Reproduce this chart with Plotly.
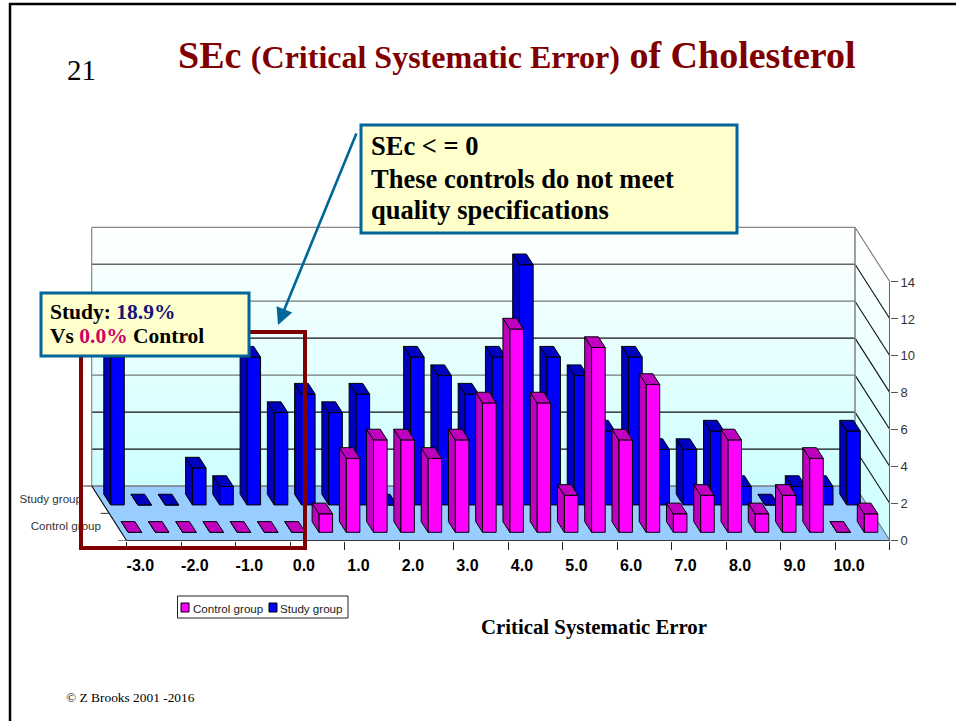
import plotly.graph_objects as go

W, H = 956, 721

# ---------- data ----------
categories = ["-3.0", "-2.5", "-2.0", "-1.5", "-1.0", "-0.5", "0.0", "0.5", "1.0", "1.5",
              "2.0", "2.5", "3.0", "3.5", "4.0", "4.5", "5.0", "5.5", "6.0", "6.5",
              "7.0", "7.5", "8.0", "8.5", "9.0", "9.5", "10.0", "10.5"]
control_values = [0, 0, 0, 0, 0, 0, 0, 1, 4, 5, 5, 4, 5, 7, 11, 7, 2, 10, 5, 8, 1, 2, 5, 1, 2, 4, 0, 1]
study_values = [8, 0, 0, 2, 1, 8, 5, 6, 5, 6, 0, 8, 7, 6, 8, 13, 8, 7, 4, 8, 3, 3, 4, 1, 0, 1, 1, 4]
y_ticks = [0, 2, 4, 6, 8, 10, 12, 14]
series_names = ["Control group", "Study group"]

# ---------- oblique projection, in axis units ----------
PX_X = 27.26                # pixels per category slot
PX_Y = 18.48                # pixels per value unit
X0, Y0 = 126.7, 540.7       # pixel position of the front-left floor corner
LEFT_PX, TOP_PX = 60, 220   # plot-area limits
SKEW_X = -17.5 / PX_X       # shift per depth row
SKEW_Y = 27.35 / PX_Y
N = len(categories)
VMAX = 14


def P(s, d, v):
    return s + d * SKEW_X, v + d * SKEW_Y


SANS = "Liberation Sans"
SERIF = "Liberation Serif"
x_range = [(LEFT_PX - X0) / PX_X, N]
y_range = [0, (Y0 - TOP_PX) / PX_Y]


def poly_path(pts):
    return "M" + " L".join(f"{a:.4f},{b:.4f}" for a, b in pts) + " Z"


shapes = []


def lerp_colour(t):
    # white at the top of the wall, pale cyan at the floor
    r = round(255 - 51 * t)
    return f"rgb({r},255,255)"


# wall gradients
BANDS = 70
for k in range(BANDS):
    a = VMAX * k / BANDS
    b = VMAX * (k + 1) / BANDS + 0.03
    col = lerp_colour(1 - (k + 0.5) / BANDS)
    shapes.append(dict(type="path", layer="below", xref="x", yref="y", line_width=0, fillcolor=col,
                       path=poly_path([P(0, 2, a), P(N, 2, a), P(N, 2, b), P(0, 2, b)])))
    shapes.append(dict(type="path", layer="below", xref="x", yref="y", line_width=0, fillcolor=col,
                       path=poly_path([P(N, 2, a), P(N, 0, a), P(N, 0, b), P(N, 2, b)])))

# floor
shapes.append(dict(type="path", layer="below", xref="x", yref="y", line_width=0, fillcolor="#99CCFF",
                   path=poly_path([P(0, 0, 0), P(N, 0, 0), P(N, 2, 0), P(0, 2, 0)])))


def seg(a, b, color, width):
    shapes.append(dict(type="line", layer="below", xref="x", yref="y", x0=a[0], y0=a[1], x1=b[0], y1=b[1],
                       line=dict(color=color, width=width)))


# gridlines on both walls
grid_colours = ["#777777", "#111111", "#111111", "#777777", "#111111", "#777777", "#666666", "#888888"]
for v, c in zip(y_ticks, grid_colours):
    seg(P(0, 2, v), P(N, 2, v), c, 1.3)
    if v > 0:
        seg(P(N, 2, v), P(N, 0, v), "#111111" if v < 14 else "#777777", 1.1)
seg(P(0, 2, 0), P(0, 2, VMAX), "#888888", 1.2)
seg(P(N, 2, 0), P(N, 2, VMAX), "#888888", 1.6)
seg(P(0, 2, 0), P(0, 0, 0), "#000000", 1.1)
seg(P(N, 2, 0), P(N, 0, 0), "#777777", 1.1)
# depth-axis ticks
for d in (0, 1, 2):
    a = P(0, d, 0)
    seg((a[0] - 8.5 / PX_X, a[1]), a, "#333333", 1)


def bar_traces(values, row, front, dark, name, xa, ya):
    d0, d1 = row + 0.307, row + 0.698
    gap = 0.25
    sx, sy, tx, ty = [], [], [], []
    bar_x, bar_base = [], []
    for i, v in enumerate(values):
        l, r = i + gap, i + 1 - gap
        for (px_, py_) in [P(l, d0, 0), P(l, d1, 0), P(l, d1, v), P(l, d0, v), P(l, d0, 0)]:
            sx.append(px_); sy.append(py_)
        sx.append(None); sy.append(None)
        for (px_, py_) in [P(l, d0, v), P(l, d1, v), P(r, d1, v), P(r, d0, v), P(l, d0, v)]:
            tx.append(px_); ty.append(py_)
        tx.append(None); ty.append(None)
        bar_x.append(P(i + 0.5, d0, 0)[0])
        bar_base.append(P(i + 0.5, d0, 0)[1])
    line = dict(color="#000000", width=1)
    return [
        go.Bar(x=bar_x, y=values, base=bar_base, width=1 - 2 * gap, name=name, xaxis=xa, yaxis=ya,
               marker=dict(color=front, line=line), showlegend=False, hoverinfo="skip"),
        go.Scatter(x=sx, y=sy, mode="lines", fill="toself", fillcolor=dark, line=line, xaxis=xa, yaxis=ya,
                   showlegend=False, hoverinfo="skip"),
        go.Scatter(x=tx, y=ty, mode="lines", fill="toself", fillcolor=dark, line=line, xaxis=xa, yaxis=ya,
                   showlegend=False, hoverinfo="skip"),
    ]


fig = go.Figure()
for t in bar_traces(study_values, 1, "#0000FF", "#0000BF", series_names[1], "x", "y"):
    fig.add_trace(t)
for t in bar_traces(control_values, 0, "#FF00FF", "#BF00BF", series_names[0], "x2", "y2"):
    fig.add_trace(t)

# front floor edge and value-axis spine
fig.add_trace(go.Scatter(x=[0, N], y=[0, 0], mode="lines", line=dict(color="#000000", width=1.2), xaxis="x2", yaxis="y2",
                         cliponaxis=False, showlegend=False, hoverinfo="skip"))
fig.add_trace(go.Scatter(x=[N, N], y=[0, VMAX], mode="lines", line=dict(color="#666666", width=2), xaxis="x2", yaxis="y2",
                         cliponaxis=False, showlegend=False, hoverinfo="skip"))
# depth-axis labels (under the dark-red box)
for name, d, right_px in [(series_names[1], 1.5, 82), (series_names[0], 0.5, 101)]:
    fig.add_trace(go.Scatter(x=[(right_px - X0) / PX_X], y=[P(0, d, 0)[1]], mode="text", text=[name],
                             textposition="middle left", textfont=dict(family=SANS, size=11.6, color="#333333"),
                             xaxis="x2", yaxis="y2", cliponaxis=False, showlegend=False, hoverinfo="skip"))

# ---------- page furniture in pixel coordinates ----------


def px(x): return x / W
def py(y): return 1 - y / H


def box(x0, y0, x1, y1, fill, line, width):
    shapes.append(dict(type="rect", layer="above", xref="paper", yref="paper",
                       x0=px(x0), x1=px(x1), y0=py(y0), y1=py(y1), fillcolor=fill,
                       line=dict(color=line, width=width)))


# slide frame
shapes.append(dict(type="path", layer="above", xref="paper", yref="paper", line=dict(color="#000000", width=2.5),
                   path=f"M{px(10)},{py(721)} L{px(10)},{py(4)} L{px(956)},{py(4)}"))
# highlight box and callouts
box(81, 332, 305, 548, "rgba(0,0,0,0)", "#7F0000", 4)
box(361, 125, 737, 233, "#FFFFCC", "#006699", 3)
box(41, 293, 249, 356, "#FFFFCC", "#006699", 3)
# legend
box(177.5, 596, 348, 618, "#FFFFFF", "#222222", 1)
box(181, 603, 189, 612, "#FF00FF", "#000000", 1)
box(269, 603, 277, 612, "#0000FF", "#000000", 1)

notes = []


def text(x, y, s, family, size, color="#000000", anchor="left"):
    notes.append(dict(xref="paper", yref="paper", x=px(x - 2), y=py(y), xanchor=anchor, yanchor="middle", text=s,
                      showarrow=False, align="left", font=dict(family=family, size=size, color=color)))


text(178, 55, '<b>SEc <span style="font-size:32px">(Critical Systematic Error)</span> of Cholesterol</b>',
     SERIF, 38, "#800000")
text(67, 70, "21", SERIF, 29)
text(371, 146, "<b>SEc &lt; = 0</b>", SERIF, 26.5)
text(371, 179, "<b>These controls do not meet</b>", SERIF, 26.5)
text(371, 210, "<b>quality specifications</b>", SERIF, 26.5)
text(50, 312, '<b>Study: <span style="color:#14147A">18.9%</span></b>', SERIF, 21.5)
text(50, 336, '<b>Vs <span style="color:#CC0066">0.0%</span> Control</b>', SERIF, 21.5)
text(193, 608, series_names[0], SANS, 11.6, "#222222")
text(280, 608, series_names[1], SANS, 11.6, "#222222")
text(481, 627, "<b>Critical Systematic Error</b>", SERIF, 20.8)
text(66, 697, "© Z Brooks 2001 -2016", SERIF, 13.4)
# arrow
notes.append(dict(xref="paper", yref="paper", x=px(278), y=py(325), ax=357 - 278, ay=132 - 325, text="",
                  showarrow=True, arrowhead=2, arrowsize=1.3, arrowwidth=2.6, arrowcolor="#006699"))

domain_x = [px(LEFT_PX), px(X0 + N * PX_X)]
domain_y = [py(Y0), py(TOP_PX)]

label_pos = [i + 0.5 for i in range(0, N, 2)]
label_txt = [f"<b>{c}</b>" for c in categories[0::2]]
tick_pos = [i for i in range(0, N + 1, 2)]

fig.update_layout(
    width=W, height=H, autosize=False, margin=dict(l=0, r=0, t=0, b=0, pad=0),
    paper_bgcolor="#FFFFFF", plot_bgcolor="rgba(0,0,0,0)", barmode="overlay", showlegend=False,
    shapes=shapes, annotations=notes,
    xaxis=dict(domain=domain_x, range=x_range, anchor="y", tickmode="array", tickvals=label_pos, ticktext=label_txt,
               ticks="outside", ticklen=10, tickcolor="rgba(0,0,0,0)", showgrid=False, zeroline=False, showline=False,
               automargin=False, tickangle=0, tickfont=dict(family=SANS, size=16, color="#000000"), fixedrange=True),
    yaxis=dict(domain=domain_y, range=y_range, anchor="x", side="right", tickmode="array",
               tickvals=y_ticks, ticks="outside", ticklen=7, tickcolor="#555555", showgrid=False, zeroline=False,
               automargin=False, showline=False, tickfont=dict(family=SANS, size=13, color="#333333"), fixedrange=True),
    xaxis2=dict(domain=domain_x, range=x_range, anchor="y2", overlaying="x", tickmode="array", tickvals=tick_pos,
                ticktext=[""] * len(tick_pos), ticks="outside", ticklen=8, tickcolor="#222222", showgrid=False,
                automargin=False, zeroline=False, showline=False, fixedrange=True),
    yaxis2=dict(domain=domain_y, range=y_range, anchor="x2", overlaying="y", side="right", showticklabels=False,
                automargin=False, ticks="", showgrid=False, zeroline=False, showline=False, fixedrange=True),
)

fig.write_html("out.html", config=dict(displayModeBar=False),
               post_script="document.body.style.margin='0';")
